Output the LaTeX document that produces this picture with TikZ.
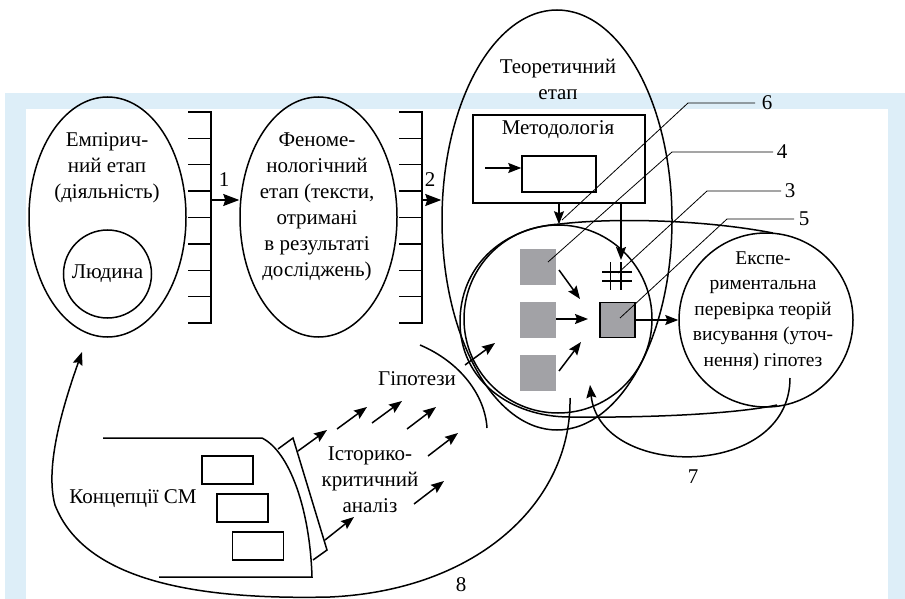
\documentclass[tikz,border=0pt]{standalone}
\usepackage{fontspec}
\setmainfont{Liberation Serif}
\usetikzlibrary{arrows.meta,shapes.geometric}
\definecolor{bgblue}{HTML}{DDEEF8}
\definecolor{sqgrey}{HTML}{A2A2A6}
\begin{document}
\begin{tikzpicture}[x=1pt,y=-1pt,
  line width=1.5pt,
  lbl/.style={font=\fontsize{21}{26}\selectfont, align=center, inner sep=0pt},
  slbl/.style={font=\fontsize{19.5}{25.5}\selectfont, align=center, inner sep=0pt},
  oval/.style={draw, ellipse, inner sep=0pt},
  ring/.style={draw, circle, inner sep=0pt},
  arr/.style={-{Stealth[length=13pt,width=10pt,inset=2pt]}},
  bigarr/.style={-{Stealth[length=16pt,width=12pt,inset=2pt]}},
  leader/.style={line width=0.8pt},
  gsq/.style={fill=sqgrey, minimum size=36pt, inner sep=0pt},
  box/.style={draw, inner sep=0pt},
]
\useasboundingbox (0,0) rectangle (905,599);
\fill[bgblue] (5,93) rectangle (905,599);
\fill[white] (26,109) rectangle (888,599);

% empirical stage
\node[oval, minimum width=157pt, minimum height=240pt] (emp) at (107.5,217) {};
\node[lbl] (empt) at (107,168) {Емпірич-\\ний етап\\(діяльність)};
\node[ring, minimum size=88pt, lbl] (man) at (107.5,274) {Людина};

% comb 1
\draw (188,112) -- (211,112) -- (211,323) -- (188,323);
\foreach \i in {1,...,7} \draw (188,112+\i*26.375) -- (211,112+\i*26.375);
\coordinate (c1) at (211,200);

% phenomenological stage
\node[oval, minimum width=157pt, minimum height=240pt] (phen) at (318.5,217) {};
\node[lbl] (phent) at (317,207) {Феноме-\\нологічний\\етап (тексти,\\отримані\\в результаті\\досліджень)};
\draw[bigarr] (c1) -- (c1 -| phen.west);
\node[lbl] (n1) at (224,180) {1};

% comb 2
\draw (399,112) -- (422,112) -- (422,323) -- (399,323);
\foreach \i in {1,...,7} \draw (399,112+\i*26.375) -- (422,112+\i*26.375);
\coordinate (c2) at (422,200);

% theoretical stage
\node[oval, minimum width=230pt, minimum height=420pt] (theo) at (557,220) {};
\node[lbl] (theot) at (558,79) {Теоретичний\\етап};
\draw[bigarr] (c2) -- (c2 -| theo.west);
\node[lbl] (n2) at (430,180) {2};

% methodology
\node[box, minimum width=172pt, minimum height=88pt] (meth) at (559,159) {};
\node[lbl] (metht) at (558,130) {Методологія};
\node[box, minimum width=74pt, minimum height=36pt] (inner) at (559,174) {};
\coordinate (ma) at (485,168);
\draw[arr] (ma) -- (ma -| inner.west);

% core circle
\node[ring, minimum size=188pt] (core) at (558,319) {};
\draw[arr] (meth.south) -- (meth.south |- core.north);
\coordinate (m2) at (621,203);
\coordinate (h2) at (621,260);
\draw[arr] (m2) -- (h2);

% hash
\draw (610.5,262) -- (610.5,290);
\draw (621,262) -- (621,290);
\draw (602,272) -- (632,272);
\draw (602,281) -- (632,281);

% squares
\node[gsq] (s1) at (538,267) {};
\node[gsq] (s2) at (538,320) {};
\node[gsq] (s3) at (538,373) {};
\node[gsq, draw, minimum size=35pt] (tsq) at (617.5,320) {};
\coordinate (a1) at (559,270); \coordinate (b1) at (580,299);
\coordinate (a2) at (556,319); \coordinate (b2) at (588,319);
\coordinate (a3) at (559,371); \coordinate (b3) at (581,342);
\draw[arr] (a1) -- (b1);
\draw[arr] (a2) -- (b2);
\draw[arr] (a3) -- (b3);

% experimental circle
\node[ring, minimum size=174pt] (exp) at (766,320) {};
\node[slbl] (expt) at (763,311) {Експе-\\риментальна\\перевірка теорій\\висування (уточ-\\нення) гіпотез};
\draw[arr] (tsq.east) -- (exp.west);

% wide loop
\draw (773,233) .. controls (700,219) and (610,218) .. (560,224)
  .. controls (500,228) and (460,268) .. (460,322)
  .. controls (460,380) and (510,417) .. (570,417)
  .. controls (660,418) and (740,413) .. (777,405);

% leaders
\node[lbl] (l6) at (767,103) {6};
\node[lbl] (l4) at (782,152) {4};
\node[lbl] (l3) at (790,191) {3};
\node[lbl] (l5) at (804,219) {5};
\coordinate (k6) at (755,103); \coordinate (k4) at (773,152);
\coordinate (k3) at (781,191); \coordinate (k5) at (794,219);
\draw[leader] (562,220) -- (688,103) -- (k6);
\draw[leader] (548,262) -- (672,152) -- (k4);
\draw[leader] (618,273) -- (707,191) -- (k3);
\draw[leader] (620,318) -- (727,219) -- (k5);

% curve 7
\coordinate (s7) at (790,378);
\coordinate (e7) at (590,385);
\draw[arr] (s7) .. controls (790,480) and (600,480) .. (e7);
\node[lbl] (n7) at (693,477) {7};

% curve 8
\coordinate (s8) at (570,398);
\coordinate (e8) at (82,352);
\draw[arr] (s8) .. controls (572,500) and (480,590) .. (330,597)
  .. controls (200,600) and (85,582) .. (55,505)
  .. controls (44,465) and (65,400) .. (e8);
\node[lbl] (n8) at (461,585) {8};

% hypotheses
\node[lbl] (hyp) at (417,379) {Гіпотези};
\draw (420,345) .. controls (460,362) and (485,395) .. (487,428);
\coordinate (h0a) at (465,365); \coordinate (h0b) at (495,343);
\draw[arr] (h0a) -- (h0b);
\foreach \xa/\ya/\xb/\yb in {298/451/327/430, 337/429/367/407, 372/423/402/401, 407/429/436/407, 428/456/458/433, 414/504/444/481, 325/540/354/517}
  \draw[arr] (\xa,\ya) -- (\xb,\yb);
\node[lbl] (hist) at (370,480) {Історико-\\критичний\\аналіз};

% concepts
\draw (103,438) -- (262,438) .. controls (290,452) and (310,510) .. (312,577) -- (159,577);
\draw (278,449) -- (293,438) -- (327,550) -- (313,560);
\node[box, minimum width=51pt, minimum height=28pt] (ra) at (227.5,470) {};
\node[box, minimum width=51pt, minimum height=28pt] (rb) at (242.5,508) {};
\node[box, minimum width=51pt, minimum height=28pt] (rc) at (258,546) {};
\node[lbl] (conc) at (133,499) {Концепції СМ};
\end{tikzpicture}
\end{document}
